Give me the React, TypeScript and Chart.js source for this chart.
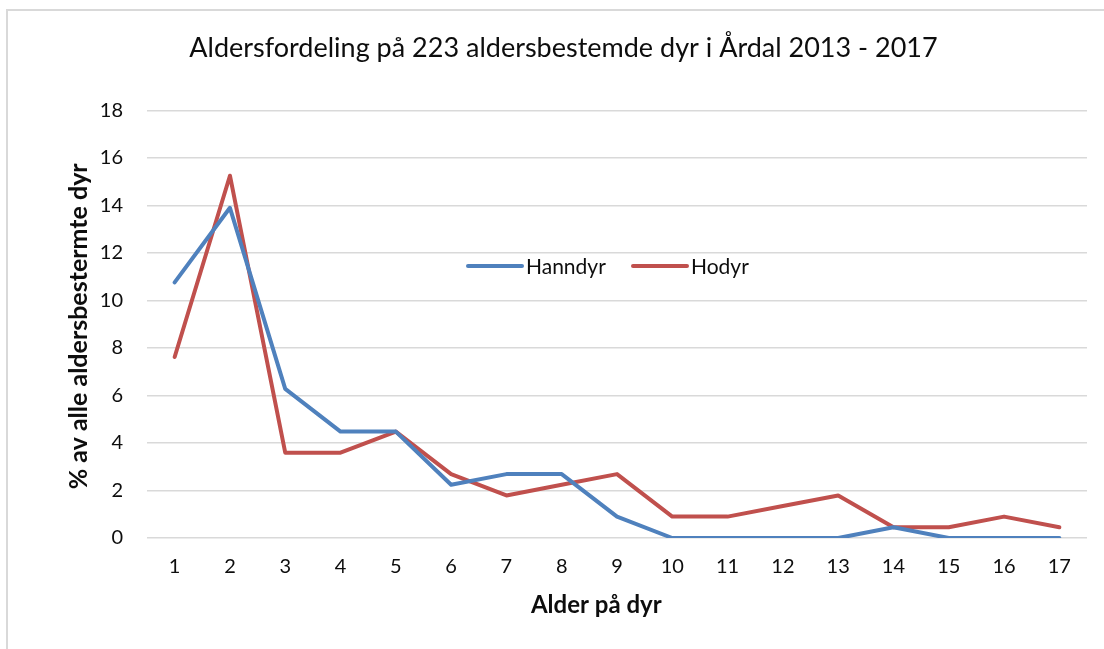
import React, { useEffect, useRef } from "react";
import { Chart, registerables } from "chart.js";

Chart.register(...registerables);

const ages = ["1", "2", "3", "4", "5", "6", "7", "8", "9", "10", "11", "12", "13", "14", "15", "16", "17"];
const hanndyr = [10.76, 13.9, 6.28, 4.48, 4.48, 2.24, 2.69, 2.69, 0.9, 0, 0, 0, 0, 0.45, 0, 0, 0];
const hodyr = [7.62, 15.25, 3.59, 3.59, 4.48, 2.69, 1.79, 2.24, 2.69, 0.9, 0.9, 1.35, 1.79, 0.45, 0.45, 0.9, 0.45];
const seriesNames = ["Hanndyr", "Hodyr"];
const seriesColors = ["#4F81BD", "#C0504D"];
const yMin = 0;
const yMax = 18;
const yStep = 2;
const chartTitle = "Aldersfordeling på 223 aldersbestemde dyr i Årdal 2013 - 2017";
const xTitle = "Alder på dyr";
const yTitle = "% av alle aldersbestermte dyr";

const FONT = "Lato, 'Open Sans', sans-serif";
const TEXT = "#0d0d0d";

const overlayPlugin = {
  id: "overlay",
  afterDraw(chart: any) {
    const ctx = chart.ctx as CanvasRenderingContext2D;
    const a = chart.chartArea;
    ctx.save();
    ctx.fillStyle = TEXT;
    ctx.textBaseline = "middle";
    ctx.textAlign = "center";
    // x axis title
    ctx.font = `bold 24px ${FONT}`;
    ctx.fillText(xTitle, a.left + (a.right - a.left) * 0.478, 605);
    // y axis title
    ctx.font = `bold 25px ${FONT}`;
    ctx.save();
    ctx.translate(79, a.top + (a.bottom - a.top) * 0.505);
    ctx.rotate(-Math.PI / 2);
    ctx.fillText(yTitle, 0, 0);
    ctx.restore();
    // legend
    const ly = 266;
    const starts = [468, 633];
    ctx.font = `21px ${FONT}`;
    ctx.textAlign = "left";
    chart.data.datasets.forEach((ds: any, i: number) => {
      const x0 = starts[i];
      ctx.strokeStyle = ds.borderColor;
      ctx.lineWidth = 4;
      ctx.lineCap = "round";
      ctx.beginPath();
      ctx.moveTo(x0, ly);
      ctx.lineTo(x0 + 54, ly);
      ctx.stroke();
      ctx.fillStyle = TEXT;
      ctx.fillText(ds.label, x0 + 58, ly + 1);
    });
    ctx.restore();
  },
};

export default function App() {
  const ref = useRef<HTMLCanvasElement | null>(null);

  useEffect(() => {
    if (!ref.current) return;
    const chart = new Chart(ref.current, {
      type: "line",
      data: {
        labels: ages,
        datasets: [
          {
            label: seriesNames[0],
            data: hanndyr,
            borderColor: seriesColors[0],
            backgroundColor: seriesColors[0],
            borderWidth: 4,
            pointRadius: 0,
            tension: 0,
            borderCapStyle: "round",
            borderJoinStyle: "round",
          },
          {
            label: seriesNames[1],
            data: hodyr,
            borderColor: seriesColors[1],
            backgroundColor: seriesColors[1],
            borderWidth: 4,
            pointRadius: 0,
            tension: 0,
            borderCapStyle: "round",
            borderJoinStyle: "round",
          },
        ],
      },
      options: {
        animation: false,
        responsive: false,
        devicePixelRatio: 1,
        layout: { padding: { left: 40, right: 17, top: 0, bottom: 0 } },
        plugins: {
          legend: { display: false },
          tooltip: { enabled: false },
          title: {
            display: true,
            text: chartTitle,
            color: TEXT,
            font: { family: FONT, size: 27, weight: "normal" },
            padding: { top: 32, bottom: 46 },
          },
        },
        scales: {
          x: {
            type: "category",
            offset: true,
            grid: { display: false, drawTicks: false },
            border: { display: false },
            ticks: { color: TEXT, font: { family: FONT, size: 20 }, padding: 17, maxRotation: 0 },
            afterFit: (s: any) => {
              s.height = 111;
            },
          },
          y: {
            min: yMin,
            max: yMax,
            ticks: { stepSize: yStep, color: TEXT, font: { family: FONT, size: 20 }, padding: 24 },
            grid: { color: "#D9D9D9", lineWidth: 1.5, drawTicks: false },
            border: { display: false },
            afterFit: (s: any) => {
              s.width = 107;
            },
          },
        },
      },
      plugins: [overlayPlugin],
    });
    return () => chart.destroy();
  }, []);

  return (
    <div style={{ position: "fixed", left: 0, top: 0, width: 1104, height: 649, overflow: "hidden", background: "#fff" }}>
      <div
        style={{
          position: "absolute",
          left: 6,
          top: 9,
          width: 1300,
          height: 900,
          border: "2px solid #D9D9D9",
          boxSizing: "border-box",
        }}
      />
      <canvas ref={ref} width={1104} height={649} style={{ position: "absolute", left: 0, top: 0, width: 1104, height: 649 }} />
    </div>
  );
}
